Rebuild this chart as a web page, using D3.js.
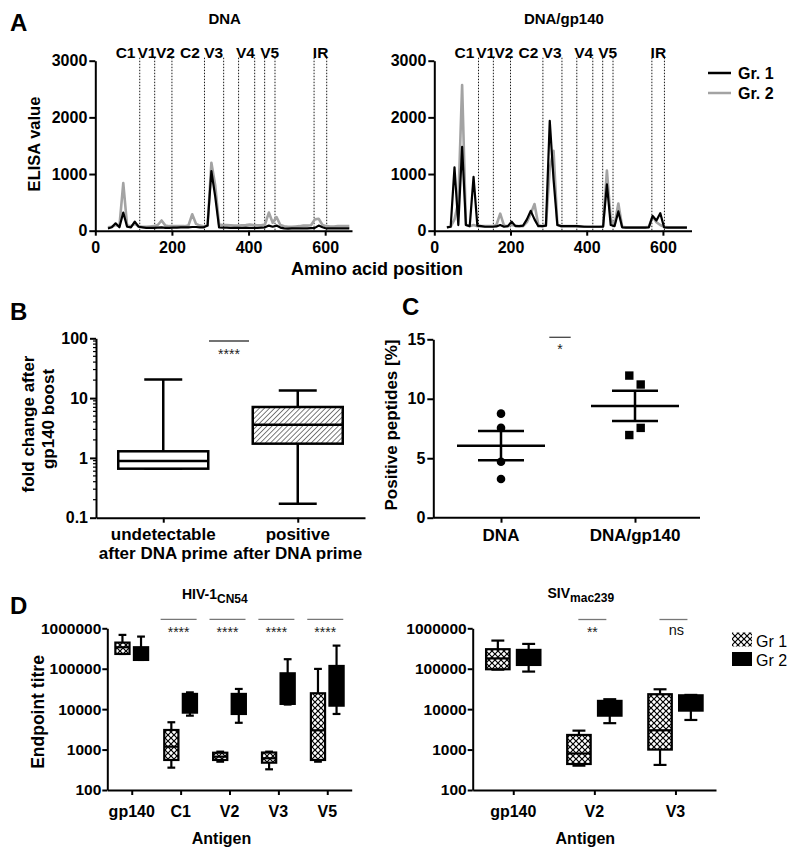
<!DOCTYPE html>
<html><head><meta charset="utf-8">
<script src="https://cdn.jsdelivr.net/npm/d3@7"></script>
<style>
body{margin:0;background:#fff;}
</style></head><body>
<svg id="chart" width="800" height="860"></svg>
<script>
// ---------------- DATA ----------------
// Panel A: peptide positions (amino acid) and ELISA values
const aaPos = [33,43,53,63,73,83,93,103,113,123,133,143,153,163,173,183,193,203,213,223,233,243,253,263,273,283,293,303,313,323,333,343,353,363,373,383,393,403,413,423,433,443,453,463,473,483,493,503,513,523,533,543,553,563,573,583,593,603,613,623,633,643,653,663];
const dnaGr1 = [40,60,130,60,320,70,60,160,70,60,
  50,50,50,55,60,50,50,55,55,60,
  60,60,65,65,60,60,90,1050,600,60,
  55,55,50,50,50,50,55,50,50,50,
  55,60,90,70,90,55,40,35,40,40,
  40,40,40,45,50,90,60,40,40,40,
  40,40,40,40];
const dnaGr2 = [60,70,100,80,840,90,80,120,80,70,
  70,75,80,100,180,90,80,80,80,80,
  80,90,290,120,90,80,90,1200,800,110,
  100,100,95,90,90,95,100,110,100,95,
  95,110,320,140,240,100,80,70,70,75,
  80,90,90,95,200,210,100,80,75,75,
  80,80,80,80];
const gpGr1 = [60,70,1120,100,1480,100,80,950,90,80,
  70,70,70,75,100,70,80,160,80,80,
  90,200,350,200,80,80,90,1940,900,100,
  80,80,80,80,80,75,70,70,70,70,
  70,70,820,100,80,340,60,55,55,55,
  55,55,55,60,260,180,310,60,55,55,
  55,55,55,55];
const gpGr2 = [60,70,200,500,2570,100,80,100,80,80,
  80,80,80,100,300,90,80,100,90,80,
  80,150,300,470,100,80,90,1100,1410,100,
  80,80,80,80,80,75,75,70,70,70,
  70,80,1060,200,100,480,70,60,60,60,
  60,60,60,70,250,150,100,70,60,60,
  60,60,60,60];
const regionBounds = [116,155,200,285,335,374,416,442,469,571,604];
const regionNames = ["C1","V1","V2","C2","V3","V4","V5","IR"];
const regionCenters = [79,135,183,247,309,392,455,588];
const aTicksX = [0,200,400,600];
const aTicksY = [0,1000,2000,3000];

// Panel B: box plots of fold change
const bLine1 = ["undetectable","positive"];
const bLine2 = ["after DNA prime","after DNA prime"];
const bMin = [0.66,0.171];
const bQ1 = [0.66,1.73];
const bMed = [0.89,3.6];
const bQ3 = [1.29,7.1];
const bMax = [20.5,13.4];
const bTicks = [0.1,1,10,100];

// Panel C: positive peptides [%]
const cGroups = ["DNA","DNA/gp140"];
const cDNA = [8.75,7.55,4.7,3.25];
const cGp = [11.95,11.2,7.55,6.95];
const cMean = [6.06,9.4];
const cSem = [1.24,1.27];
const cTicks = [0,5,10,15];

// Panel D: endpoint titres [min, q1, median, q3, max]
const hivCats = ["gp140","C1","V2","V3","V5"];
const hivGr1 = [[232000,232000,340000,443000,687000],[357,553,1180,3050,4740],[502,553,668,836,888],[325,474,610,845,888],[502,553,3000,24700,99000]];
const hivGr2 = [[165000,165000,219000,340000,624000],[6900,8200,14000,23800,26000],[4600,7600,14000,23800,31600],[13000,13500,30000,77000,172000],[7600,12200,40000,117000,373000]];
const hivSig = ["","****","****","****","****"];
const sivCats = ["gp140","V2","V3"];
const sivGr1 = [[95000,97000,180000,304000,497000],[400,440,800,2300,2940],[417,1000,3000,23400,31000]];
const sivGr2 = [[85000,124000,180000,292000,411000],[4500,6900,10000,16000,17600],[5400,9200,14000,22000,22500]];
const sivSig = ["","**","ns"];
const dTicks = [100,1000,10000,100000,1000000];

// ---------------- DRAW ----------------
const FONT = '"Liberation Sans", Arial, Helvetica, sans-serif';
const svg = d3.select("#chart").attr("font-family", FONT);
const GRAY = "#a3a3a3";

const defs = svg.append("defs");
const hatch = defs.append("pattern").attr("id","hatchB").attr("patternUnits","userSpaceOnUse")
  .attr("width",3.6).attr("height",3.6).attr("patternTransform","rotate(45)");
hatch.append("rect").attr("width",3.6).attr("height",3.6).attr("fill","#fff");
hatch.append("line").attr("x1",0).attr("y1",0).attr("x2",0).attr("y2",3.6).attr("stroke","#444").attr("stroke-width",1.4);
const cross = defs.append("pattern").attr("id","crossD").attr("patternUnits","userSpaceOnUse")
  .attr("width",6).attr("height",6);
cross.append("rect").attr("width",6).attr("height",6).attr("fill","#000");
cross.append("path").attr("fill","#fff")
  .attr("d","M3,0.85L5.15,3L3,5.15L0.85,3Z M0,-2.15L2.15,0L0,2.15L-2.15,0Z M6,-2.15L8.15,0L6,2.15L3.85,0Z M0,3.85L2.15,6L0,8.15L-2.15,6Z M6,3.85L8.15,6L6,8.15L3.85,6Z");

function styleAxis(g, fs) {
  g.attr("font-family", FONT).attr("font-size", fs || 16).attr("font-weight", "bold");
  g.select(".domain").attr("stroke", "#000").attr("stroke-width", 2);
  g.selectAll(".tick line").attr("stroke", "#000").attr("stroke-width", 2);
  g.selectAll(".tick text").attr("fill", "#000");
  return g;
}
function txt(x, y, s, opts) {
  opts = opts || {};
  const t = svg.append("text").attr("x", x).attr("y", y).text(s)
    .attr("font-size", opts.size || 16).attr("font-weight", opts.weight || "bold")
    .attr("text-anchor", opts.anchor || "middle").attr("fill", opts.fill || "#000");
  if (opts.rotate) t.attr("transform", `rotate(-90,${x},${y})`);
  return t;
}

// ---- Panel A ----
const yA = d3.scaleLinear().domain([0,3000]).range([230.7,60.7]);
const panelsA = [
  {x: d3.scaleLinear().domain([0,670]).range([95.3,352]), g1: dnaGr1, g2: dnaGr2, title: "DNA"},
  {x: d3.scaleLinear().domain([0,675]).range([434.3,691.5]), g1: gpGr1, g2: gpGr2, title: "DNA/gp140"}
];
panelsA.forEach(p => {
  const x = p.x;
  svg.append("g").selectAll("line").data(regionBounds).join("line")
    .attr("x1", d => x(d)).attr("x2", d => x(d))
    .attr("y1", yA(3000) - 3).attr("y2", yA(0))
    .attr("stroke", "#000").attr("stroke-width", 0.9).attr("stroke-dasharray", "1.5,1.5");
  svg.append("g").selectAll("text").data(regionNames).join("text")
    .attr("x", (d,i) => x(regionCenters[i])).attr("y", 57.5)
    .attr("text-anchor","middle").attr("font-size",15.5).attr("font-weight","bold").text(d => d);
  const line = d3.line().x((d,i) => x(aaPos[i])).y(d => yA(d));
  svg.append("path").datum(p.g2).attr("d", line).attr("fill","none").attr("stroke",GRAY).attr("stroke-width",2.6).attr("stroke-linejoin","round");
  svg.append("path").datum(p.g1).attr("d", line).attr("fill","none").attr("stroke","#000").attr("stroke-width",2.2).attr("stroke-linejoin","round");
  styleAxis(svg.append("g").attr("transform",`translate(0,${yA(0)})`)
    .call(d3.axisBottom(x).tickValues(aTicksX).tickFormat(d3.format("d")).tickSize(5).tickPadding(6).tickSizeOuter(0)));
  styleAxis(svg.append("g").attr("transform",`translate(${x(0)},0)`)
    .call(d3.axisLeft(yA).tickValues(aTicksY).tickFormat(d3.format("d")).tickSize(6).tickPadding(2).tickSizeOuter(0)));
  txt((x.range()[0] + x.range()[1]) / 2 + 1, 24, p.title, {size: 15});
});
txt(10, 31, "A", {size: 24, anchor: "start"});
txt(40, 144, "ELISA value", {size: 16.5, rotate: true});
txt(377, 275, "Amino acid position", {size: 18});
[["Gr. 1","#000",73],["Gr. 2",GRAY,93]].forEach(d => {
  svg.append("line").attr("x1",708).attr("x2",731).attr("y1",d[2]).attr("y2",d[2]).attr("stroke",d[1]).attr("stroke-width",2.5);
  txt(738, d[2] + 6, d[0], {size: 16, anchor: "start"});
});

// ---- Panel B ----
const yB = d3.scaleLog().domain([0.1,100]).range([517.7,338.3]);
const xB = d3.scalePoint().domain([0,1]).range([96,365]).padding(0.5);
const minorB = yB.ticks().filter(v => bTicks.indexOf(v) < 0);
svg.append("g").selectAll("line").data(minorB).join("line")
  .attr("x1", 96).attr("x2", 93).attr("y1", d => yB(d)).attr("y2", d => yB(d))
  .attr("stroke","#000").attr("stroke-width",1.2);
styleAxis(svg.append("g").attr("transform","translate(96,0)")
  .call(d3.axisLeft(yB).tickValues(bTicks).tickFormat(d3.format("~g")).tickSize(6).tickPadding(2).tickSizeOuter(0)));
styleAxis(svg.append("g").attr("transform",`translate(0,${yB(0.1)})`)
  .call(d3.axisBottom(xB).tickSize(5).tickFormat("").tickSizeOuter(0)));
[0,1].forEach(i => {
  const cx = xB(i);
  const g = svg.append("g");
  g.append("line").attr("x1",cx).attr("x2",cx).attr("y1",yB(bMax[i])).attr("y2",yB(bQ3[i])).attr("stroke","#000").attr("stroke-width",2.5);
  g.append("line").attr("x1",cx).attr("x2",cx).attr("y1",yB(bQ1[i])).attr("y2",yB(bMin[i])).attr("stroke","#000").attr("stroke-width",2.5);
  g.append("line").attr("x1",cx-19).attr("x2",cx+19).attr("y1",yB(bMax[i])).attr("y2",yB(bMax[i])).attr("stroke","#000").attr("stroke-width",2.5);
  g.append("line").attr("x1",cx-19).attr("x2",cx+19).attr("y1",yB(bMin[i])).attr("y2",yB(bMin[i])).attr("stroke","#000").attr("stroke-width",2.5);
  g.append("rect").attr("x",cx-45).attr("width",90).attr("y",yB(bQ3[i])).attr("height",yB(bQ1[i])-yB(bQ3[i]))
    .attr("fill", i === 0 ? "#fff" : "url(#hatchB)").attr("stroke","#000").attr("stroke-width",2.5);
  g.append("line").attr("x1",cx-45).attr("x2",cx+45).attr("y1",yB(bMed[i])).attr("y2",yB(bMed[i])).attr("stroke","#000").attr("stroke-width",2.5);
  txt(cx, 540, bLine1[i], {size: 17});
  txt(cx, 559, bLine2[i], {size: 17});
});
svg.append("line").attr("x1",209).attr("x2",249).attr("y1",341).attr("y2",341).attr("stroke","#444").attr("stroke-width",1.3);
txt(229, 359, "****", {size: 14, weight: "normal", fill: "#222"});
txt(10, 320, "B", {size: 24, anchor: "start"});
txt(34, 424, "fold change after", {size: 17, rotate: true});
txt(54, 419, "gp140 boost", {size: 17, rotate: true});

// ---- Panel C ----
const yC = d3.scaleLinear().domain([0,15]).range([517.7,339.3]);
const xC = d3.scalePoint().domain(cGroups).range([434,702]).padding(0.5);
styleAxis(svg.append("g").attr("transform","translate(433.3,0)")
  .call(d3.axisLeft(yC).tickValues(cTicks).tickSize(6).tickPadding(2).tickSizeOuter(0)));
styleAxis(svg.append("g").attr("transform",`translate(0,${yC(0)})`)
  .call(d3.axisBottom(xC).tickSize(5).tickFormat("").tickSizeOuter(0)))
  .select(".domain").attr("d", `M433.3,0H700`);
cGroups.forEach((gname, i) => {
  txt(xC(gname), 541, gname, {size: 17});
  const cx = xC(gname);
  const g = svg.append("g").attr("stroke","#000").attr("stroke-width",2.5);
  g.append("line").attr("x1",cx-44).attr("x2",cx+44).attr("y1",yC(cMean[i])).attr("y2",yC(cMean[i]));
  g.append("line").attr("x1",cx-23).attr("x2",cx+23).attr("y1",yC(cMean[i]+cSem[i])).attr("y2",yC(cMean[i]+cSem[i]));
  g.append("line").attr("x1",cx-23).attr("x2",cx+23).attr("y1",yC(cMean[i]-cSem[i])).attr("y2",yC(cMean[i]-cSem[i]));
  g.append("line").attr("x1",cx).attr("x2",cx).attr("y1",yC(cMean[i]+cSem[i])).attr("y2",yC(cMean[i]-cSem[i]));
});
svg.append("g").selectAll("circle").data(cDNA).join("circle")
  .attr("cx", xC("DNA")).attr("cy", d => yC(d)).attr("r", 4.3).attr("fill","#000");
const jitter = [-5.7,5.7,5.7,-5.7];
svg.append("g").selectAll("rect").data(cGp).join("rect")
  .attr("x", (d,i) => xC("DNA/gp140") + jitter[i] - 4.2).attr("y", d => yC(d) - 4.2)
  .attr("width", 8.4).attr("height", 8.4).attr("fill","#000");
svg.append("line").attr("x1",549.3).attr("x2",570.7).attr("y1",337.3).attr("y2",337.3).attr("stroke","#444").attr("stroke-width",1.3);
txt(560, 354, "*", {size: 14, weight: "normal", fill: "#222"});
txt(402, 315, "C", {size: 24, anchor: "start"});
txt(397, 425, "Positive peptides [%]", {size: 17, rotate: true});

// ---- Panel D ----
const yD = d3.scaleLog().domain([100,1000000]).range([790,628.3]);
function panelD(cats, gr1, gr2, sig, x0, x1, sigHalf, sigY) {
  const x = d3.scalePoint().domain(cats).range([x0,x1]).padding(0.5);
  const step = x.step();
  const off = 0.19 * step, bw = 0.29 * step, cw = 0.55 * bw;
  styleAxis(svg.append("g").attr("transform",`translate(${x0},0)`)
    .call(d3.axisLeft(yD).tickValues(dTicks).tickFormat(d3.format("d")).tickSize(5).tickPadding(1).tickSizeOuter(0)), 15.5);
  styleAxis(svg.append("g").attr("transform",`translate(0,790)`)
    .call(d3.axisBottom(x).tickSize(5).tickFormat("").tickSizeOuter(0)));
  cats.forEach((c, i) => {
    txt(x(c), 817, c, {size: 16});
    [[gr1[i], -off, "url(#crossD)"], [gr2[i], off, "#000"]].forEach(([s, o, fill]) => {
      const cx = x(c) + o;
      const g = svg.append("g").attr("stroke","#000").attr("stroke-width",2.2);
      g.append("line").attr("x1",cx).attr("x2",cx).attr("y1",yD(s[4])).attr("y2",yD(s[3]));
      g.append("line").attr("x1",cx).attr("x2",cx).attr("y1",yD(s[1])).attr("y2",yD(s[0]));
      g.append("line").attr("x1",cx-cw/2).attr("x2",cx+cw/2).attr("y1",yD(s[4])).attr("y2",yD(s[4]));
      g.append("line").attr("x1",cx-cw/2).attr("x2",cx+cw/2).attr("y1",yD(s[0])).attr("y2",yD(s[0]));
      g.append("rect").attr("x",cx-bw/2).attr("width",bw).attr("y",yD(s[3])).attr("height",Math.max(1,yD(s[1])-yD(s[3])))
        .attr("fill",fill);
      g.append("line").attr("x1",cx-bw/2).attr("x2",cx+bw/2).attr("y1",yD(s[2])).attr("y2",yD(s[2]));
    });
    if (sig[i]) {
      svg.append("line").attr("x1",x(c)-sigHalf-2).attr("x2",x(c)+sigHalf-2).attr("y1",sigY).attr("y2",sigY)
        .attr("stroke","#777").attr("stroke-width",1.3);
      if (sig[i] === "ns") txt(x(c)+1, 635, "ns", {size: 14.5, weight: "normal", fill: "#111"});
      else txt(x(c)-2, 637, sig[i], {size: 14, weight: "normal", fill: "#222"});
    }
  });
  txt((x0 + x1) / 2 + (cats.length === 5 ? -8 : -9), 844, "Antigen", {size: 16});
  return x;
}
panelD(hivCats, hivGr1, hivGr2, hivSig, 107.3, 351.7, 18, 619.3);
panelD(sivCats, sivGr1, sivGr2, sivSig, 472.7, 716, 14, 619.5);
txt(10, 614, "D", {size: 24, anchor: "start"});
txt(44, 712, "Endpoint titre", {size: 17.5, rotate: true});
const t1 = txt(182, 599, "HIV-1", {size: 14, anchor: "start"});
t1.append("tspan").attr("dy", 4).attr("font-size", 12).text("CN54");
const t2 = txt(547.5, 597.5, "SIV", {size: 14, anchor: "start"});
t2.append("tspan").attr("dy", 4).attr("font-size", 12).text("mac239");
[["Gr 1","url(#crossD)",632.5,646.5],["Gr 2","#000",652,665.5]].forEach(d => {
  svg.append("rect").attr("x",732).attr("y",d[2]).attr("width",20).attr("height",14).attr("fill",d[1]);
  txt(756, d[3], d[0], {size: 16, weight: "normal", anchor: "start"});
});
</script>
</body></html>
